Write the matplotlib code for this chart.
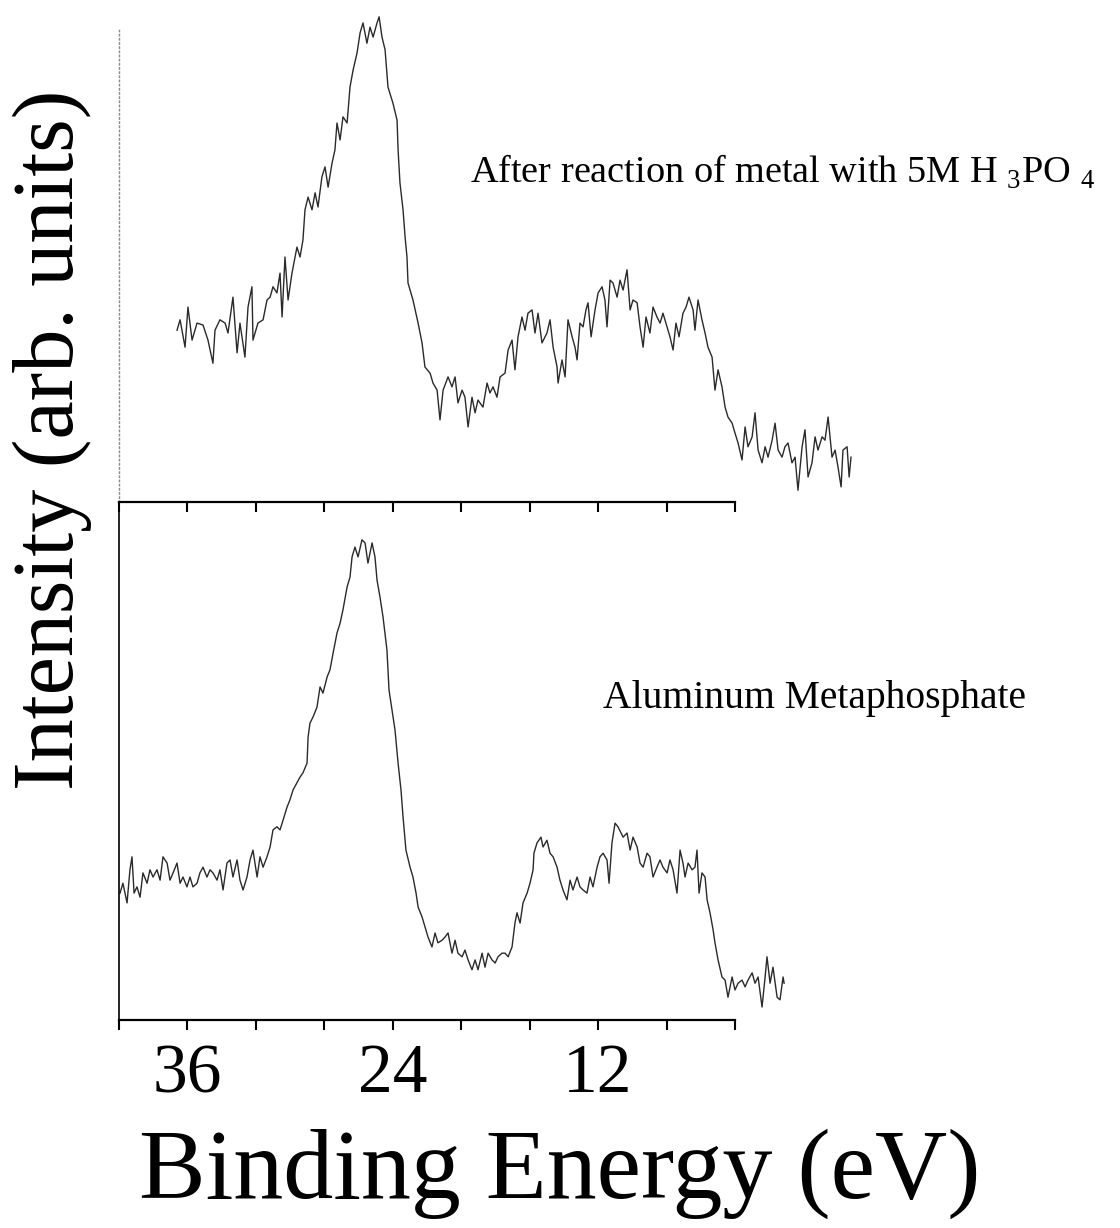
import numpy as np
import matplotlib
matplotlib.use("Agg")
import matplotlib.pyplot as plt

plt.rcParams["font.family"] = ["Liberation Serif", "DejaVu Serif"]
plt.rcParams["mathtext.fontset"] = "custom"
plt.rcParams["mathtext.rm"] = "Liberation Serif"

# spectrum after reaction with 5M H3PO4 (binding energy in eV, intensity arb. units)
energy_acid = [
    36.61, 36.43, 36.14, 35.97, 35.73, 35.44, 35.09, 34.80, 34.51, 34.39,
    34.10, 33.80, 33.63, 33.34, 33.10, 32.93, 32.64, 32.46, 32.23, 32.17,
    31.88, 31.58, 31.35, 31.17, 31.00, 30.77, 30.59, 30.47, 30.30, 30.12,
    29.89, 29.60, 29.42, 29.25, 29.13, 28.95, 28.72, 28.54, 28.37, 28.14,
    27.96, 27.78, 27.55, 27.38, 27.26, 27.08, 26.91, 26.67, 26.50, 26.32,
    26.09, 25.91, 25.74, 25.51, 25.33, 25.15, 24.92, 24.80, 24.63, 24.45,
    24.28, 23.99, 23.75, 23.69, 23.58, 23.40, 23.28, 23.17, 23.11, 22.82,
    22.52, 22.29, 22.12, 21.82, 21.65, 21.41, 21.24, 21.06, 20.77, 20.54,
    20.36, 20.19, 19.95, 19.78, 19.60, 19.37, 19.19, 19.02, 18.73, 18.49,
    18.32, 18.14, 17.91, 17.73, 17.44, 17.26, 17.03, 16.86, 16.68, 16.45,
    16.27, 16.10, 15.86, 15.69, 15.51, 15.28, 14.99, 14.81, 14.63, 14.40,
    14.34, 14.11, 13.93, 13.76, 13.52, 13.35, 13.23, 13.06, 12.88, 12.71,
    12.59, 12.41, 12.18, 12.00, 11.77, 11.60, 11.48, 11.30, 11.13, 10.89,
    10.72, 10.54, 10.31, 10.13, 9.96, 9.72, 9.55, 9.37, 9.20, 8.97,
    8.79, 8.56, 8.38, 8.21, 7.97, 7.80, 7.62, 7.45, 7.27, 7.04,
    6.86, 6.69, 6.45, 6.34, 6.16, 5.93, 5.75, 5.58, 5.34, 5.17,
    4.99, 4.76, 4.58, 4.41, 4.17, 4.00, 3.82, 3.59, 3.41, 3.24,
    3.00, 2.83, 2.65, 2.42, 2.24, 2.07, 1.83, 1.66, 1.48, 1.25,
    1.08, 0.90, 0.67, 0.49, 0.32, 0.08, -0.09, -0.27, -0.50, -0.68,
    -0.85, -1.09, -1.26, -1.44, -1.67, -1.85, -2.02, -2.20, -2.31, -2.55,
    -2.67, -2.78,
]
intensity_acid = [
    36.4, 38.6, 32.8, 41.3, 34.3, 37.9, 37.5, 34.3, 29.4, 36.4,
    38.6, 37.9, 35.8, 43.4, 31.6, 37.9, 30.7, 41.3, 45.6, 34.3,
    37.9, 38.6, 42.8, 43.4, 45.6, 44.3, 48.5, 39.2, 51.9, 42.8,
    48.5, 54.0, 51.9, 55.5, 61.9, 64.6, 61.9, 65.5, 62.5, 68.9,
    71.0, 66.7, 71.8, 74.6, 80.3, 76.7, 81.6, 80.3, 87.9, 91.5,
    95.1, 99.4, 101.5, 97.2, 100.6, 98.5, 101.5, 102.8, 98.5, 95.8,
    87.9, 84.5, 80.9, 74.6, 67.6, 61.9, 56.1, 51.9, 46.4, 42.8,
    37.9, 33.7, 28.6, 27.3, 25.2, 23.7, 17.4, 23.7, 26.5, 24.4,
    26.5, 21.0, 23.7, 22.2, 15.9, 22.2, 18.9, 21.6, 20.1, 25.2,
    23.1, 24.4, 22.2, 26.5, 27.3, 32.2, 34.3, 28.0, 35.0, 39.2,
    36.4, 40.0, 40.7, 35.8, 40.0, 33.7, 35.8, 38.6, 32.8, 28.6,
    25.2, 30.1, 26.5, 38.6, 35.0, 32.8, 30.1, 37.9, 37.1, 40.7,
    42.2, 35.0, 40.7, 44.3, 45.6, 42.8, 37.1, 47.0, 46.4, 43.4,
    47.0, 44.9, 49.2, 40.7, 42.8, 42.2, 37.1, 32.8, 39.2, 35.8,
    41.3, 39.2, 37.9, 40.0, 37.1, 35.0, 32.2, 37.9, 35.0, 40.0,
    41.3, 43.4, 40.7, 36.4, 42.8, 38.6, 35.8, 32.8, 30.7, 23.7,
    28.0, 24.4, 20.1, 18.0, 16.7, 14.6, 12.5, 8.9, 15.9, 11.7,
    13.8, 18.9, 11.0, 8.3, 11.7, 9.5, 13.1, 16.7, 11.0, 9.5,
    11.7, 12.5, 8.3, 9.5, 2.5, 11.7, 15.3, 5.3, 8.3, 13.8,
    11.0, 13.8, 13.1, 18.0, 9.5, 11.0, 7.4, 3.2, 11.0, 11.7,
    5.3, 9.5,
]

# aluminum metaphosphate reference spectrum
energy_ref = [
    39.94, 39.77, 39.53, 39.36, 39.24, 39.12, 38.95, 38.77, 38.60, 38.36,
    38.19, 38.01, 37.78, 37.60, 37.43, 37.19, 37.02, 36.84, 36.61, 36.43,
    36.26, 36.03, 35.85, 35.68, 35.44, 35.27, 35.09, 34.86, 34.68, 34.51,
    34.27, 34.10, 33.92, 33.69, 33.51, 33.34, 33.10, 32.93, 32.75, 32.52,
    32.34, 32.17, 31.93, 31.76, 31.58, 31.35, 31.17, 31.00, 30.77, 30.59,
    30.41, 30.18, 30.01, 29.83, 29.60, 29.42, 29.25, 29.01, 28.95, 28.84,
    28.66, 28.43, 28.25, 28.08, 27.84, 27.67, 27.49, 27.26, 27.08, 26.91,
    26.67, 26.50, 26.38, 26.21, 26.03, 25.80, 25.62, 25.45, 25.21, 25.04,
    24.92, 24.75, 24.57, 24.34, 24.22, 24.04, 23.87, 23.69, 23.52, 23.40,
    23.23, 22.99, 22.82, 22.64, 22.52, 22.29, 22.12, 21.94, 21.71, 21.53,
    21.36, 21.12, 20.95, 20.77, 20.54, 20.36, 20.19, 19.95, 19.78, 19.60,
    19.37, 19.19, 19.02, 18.78, 18.61, 18.43, 18.20, 18.02, 17.85, 17.62,
    17.44, 17.26, 17.03, 16.86, 16.74, 16.56, 16.39, 16.15, 15.98, 15.80,
    15.75, 15.57, 15.34, 15.22, 14.99, 14.81, 14.63, 14.40, 14.23, 14.05,
    13.82, 13.64, 13.47, 13.23, 13.06, 12.88, 12.65, 12.47, 12.30, 12.06,
    11.89, 11.71, 11.48, 11.36, 11.19, 11.01, 10.84, 10.54, 10.31, 10.13,
    9.96, 9.72, 9.55, 9.37, 9.14, 8.97, 8.79, 8.56, 8.38, 8.21,
    7.97, 7.80, 7.62, 7.39, 7.21, 7.04, 6.92, 6.74, 6.51, 6.34,
    6.22, 6.10, 5.93, 5.75, 5.63, 5.46, 5.28, 5.17, 4.99, 4.76,
    4.58, 4.41, 4.17, 4.00, 3.82, 3.59, 3.41, 3.24, 3.00, 2.83,
    2.65, 2.42, 2.24, 2.13, 1.95, 1.78, 1.54, 1.37, 1.19, 1.13,
]
intensity_ref = [
    24.5, 26.4, 22.6, 29.0, 31.5, 24.5, 25.7, 23.7, 28.4, 26.4,
    29.0, 27.6, 29.0, 27.0, 31.5, 30.3, 27.0, 28.4, 30.3, 26.4,
    27.6, 25.7, 27.6, 25.7, 26.4, 28.4, 29.5, 27.6, 29.0, 28.4,
    27.0, 29.0, 25.1, 30.3, 30.9, 27.6, 30.9, 27.0, 25.1, 27.6,
    30.9, 32.8, 27.6, 31.5, 29.5, 31.5, 33.4, 36.7, 37.3, 36.7,
    38.6, 41.1, 42.5, 44.4, 45.8, 46.9, 47.7, 49.6, 54.6, 57.3,
    58.5, 60.4, 64.3, 63.1, 66.2, 67.6, 70.8, 74.7, 76.6, 79.2,
    83.6, 85.5, 89.4, 91.3, 89.4, 92.7, 92.1, 88.2, 92.1, 89.4,
    84.9, 81.7, 77.8, 71.4, 63.7, 59.8, 56.0, 49.6, 44.4, 39.2,
    32.8, 29.5, 27.6, 24.5, 21.8, 19.9, 18.0, 16.0, 14.1, 16.8,
    14.9, 15.4, 16.0, 16.8, 12.9, 15.4, 12.9, 12.2, 13.5, 11.6,
    9.7, 11.6, 9.7, 12.9, 10.2, 12.9, 11.6, 11.0, 12.2, 12.9,
    12.9, 12.2, 14.1, 18.7, 20.7, 18.7, 22.6, 24.5, 26.4, 29.0,
    32.2, 34.2, 35.3, 33.4, 34.7, 32.2, 31.5, 29.5, 27.0, 25.1,
    23.2, 27.0, 25.1, 27.6, 25.7, 25.1, 24.5, 27.6, 25.7, 29.5,
    31.5, 32.2, 30.9, 26.4, 34.2, 38.0, 37.3, 35.3, 36.1, 32.8,
    35.3, 33.4, 30.3, 29.5, 32.2, 31.5, 27.6, 29.5, 30.9, 29.5,
    28.4, 30.9, 29.0, 24.5, 32.8, 30.3, 27.6, 30.3, 29.0, 29.5,
    32.8, 24.5, 28.4, 27.6, 23.2, 20.7, 17.4, 14.9, 11.6, 8.3,
    7.7, 4.4, 8.3, 5.8, 7.1, 7.7, 6.4, 7.7, 9.1, 7.1,
    8.3, 2.5, 8.3, 12.2, 7.1, 10.2, 4.4, 3.9, 8.3, 7.1,
]

tick_values = [40, 36, 32, 28, 24, 20, 16, 12, 8, 4]
tick_labels = ["", "36", "", "", "24", "", "", "12", "", ""]

fig = plt.figure(figsize=(11.2, 12.28), dpi=100)
ax1 = fig.add_axes([119 / 1120, 1 - 502 / 1228, 616 / 1120, 472 / 1228])
ax2 = fig.add_axes([119 / 1120, 1 - 1020 / 1228, 616 / 1120, 518 / 1228])

line_kw = dict(color="#2a2a2a", lw=1.0, clip_on=False)
ax1.plot(energy_acid, intensity_acid, **line_kw)
ax2.plot(energy_ref, intensity_ref, **line_kw)

for ax in (ax1, ax2):
    ax.set_xlim(40, 4)
    ax.set_ylim(0, 100)
    ax.set_yticks([])
    ax.set_xticks(tick_values)
    ax.spines["top"].set_visible(False)
    ax.spines["right"].set_visible(False)
    ax.spines["bottom"].set_linewidth(1.6)
    ax.tick_params(axis="x", direction="out", length=7, width=1.5, pad=10)
    ax.patch.set_alpha(0)

ax1.set_xticklabels([])
ax1.spines["left"].set_linestyle((0, (1, 2)))
ax1.spines["left"].set_color("#888888")
ax1.spines["left"].set_linewidth(1.0)
ax2.spines["left"].set_linewidth(1.2)
ax2.set_xticklabels(tick_labels, fontsize=50)

ax2.set_xlabel("Binding Energy (eV)", fontsize=72)
ax2.xaxis.set_label_coords(0.716, -0.21)

fig.text(52 / 1120, 1 - 440 / 1228, "Intensity (arb. units)", rotation=90,
         fontsize=62, ha="center", va="center")

ax1.text(0.57, 0.70, r"After reaction of metal with 5M H $_3$PO $_4$",
         transform=ax1.transAxes, fontsize=27.5, ha="left", va="center")
ax2.text(0.786, 0.62, "Aluminum Metaphosphate",
         transform=ax2.transAxes, fontsize=28.5, ha="left", va="center")

fig.savefig("out.png", dpi=100)
